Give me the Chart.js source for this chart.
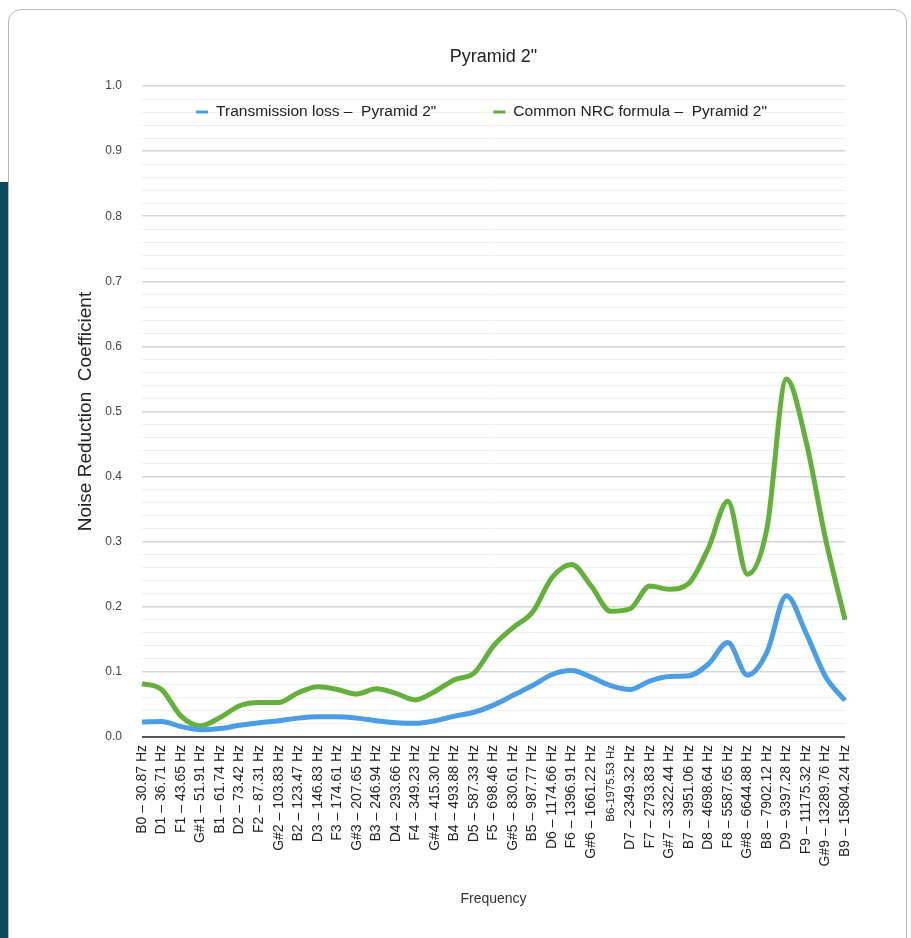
<!DOCTYPE html>
<html>
<head>
<meta charset="utf-8">
<script src="https://cdn.jsdelivr.net/npm/chart.js@4.4.1/dist/chart.umd.min.js"></script>
<style>
  html, body { margin: 0; padding: 0; background: #ffffff; width: 911px; height: 938px; overflow: hidden; }
  #bar { position: absolute; left: 0; top: 182px; width: 8px; height: 756px; background: #0c4a5e; }
  #card { position: absolute; left: 8px; top: 9px; width: 897px; height: 1000px; border: 1px solid #b9b9b9; border-radius: 13px; background: #ffffff; }
  #c { position: absolute; left: 0; top: 0; }
</style>
</head>
<body>
<div id="bar"></div>
<div id="card"></div>
<canvas id="c" width="911" height="938"></canvas>
<script>
const chartTitle = 'Pyramid 2"';
const xTitle = 'Frequency';
const yTitle = 'Noise Reduction  Coefficient';

const categories = [
  "B0 – 30.87 Hz", "D1 – 36.71 Hz", "F1 – 43.65 Hz", "G#1 – 51.91 Hz", "B1 – 61.74 Hz",
  "D2 – 73.42 Hz", "F2 – 87.31 Hz", "G#2 – 103.83 Hz", "B2 – 123.47 Hz", "D3 – 146.83 Hz",
  "F3 – 174.61 Hz", "G#3 – 207.65 Hz", "B3 – 246.94 Hz", "D4 – 293.66 Hz", "F4 – 349.23 Hz",
  "G#4 – 415.30 Hz", "B4 – 493.88 Hz", "D5 – 587.33 Hz", "F5 – 698.46 Hz", "G#5 – 830.61 Hz",
  "B5 – 987.77 Hz", "D6 – 1174.66 Hz", "F6 – 1396.91 Hz", "G#6 – 1661.22 Hz", "B6-1975.53 Hz",
  "D7 – 2349.32 Hz", "F7 – 2793.83 Hz", "G#7 – 3322.44 Hz", "B7 – 3951.06 Hz", "D8 – 4698.64 Hz",
  "F8 – 5587.65 Hz", "G#8 – 6644.88 Hz", "B8 – 7902.12 Hz", "D9 – 9397.28 Hz", "F9 – 11175.32 Hz",
  "G#9 – 13289.76 Hz", "B9 – 15804.24 Hz"
];

const transmissionLossLabel = 'Transmission loss –  Pyramid 2"';
const transmissionLoss = [
  0.023, 0.024, 0.016, 0.011, 0.013, 0.018, 0.022, 0.025, 0.029, 0.031,
  0.031, 0.029, 0.025, 0.022, 0.021, 0.025, 0.032, 0.038, 0.049, 0.064,
  0.079, 0.096, 0.102, 0.092, 0.079, 0.073, 0.086, 0.093, 0.094, 0.112,
  0.145, 0.095, 0.130, 0.217, 0.160, 0.093, 0.056
];

const nrcFormulaLabel = 'Common NRC formula –  Pyramid 2"';
const nrcFormula = [
  0.082, 0.073, 0.032, 0.017, 0.030, 0.048, 0.053, 0.053, 0.068, 0.077,
  0.073, 0.066, 0.074, 0.067, 0.057, 0.070, 0.088, 0.098, 0.140, 0.168,
  0.192, 0.245, 0.265, 0.232, 0.193, 0.197, 0.232, 0.227, 0.236, 0.290,
  0.362, 0.250, 0.320, 0.550, 0.455, 0.305, 0.180
];

const FONT = '"Liberation Sans", Arial, Helvetica, sans-serif';
const BLUE = '#4b9ee6';
const GREEN = '#63b13a';

const insideLegend = {
  id: 'insideLegend',
  afterDatasetsDraw(chart) {
    const ctx = chart.ctx;
    const area = chart.chartArea;
    const fs = 15.5;
    ctx.save();
    ctx.font = fs + 'px ' + FONT;
    ctx.textBaseline = 'middle';
    ctx.textAlign = 'left';
    const markW = 12, markGap = 8, itemGap = 57;
    const items = chart.data.datasets.map(ds => ({
      text: ds.label, color: ds.borderColor,
      w: markW + markGap + ctx.measureText(ds.label).width
    }));
    const total = items.reduce((s, it) => s + it.w, 0) + itemGap * (items.length - 1);
    let x = (area.left + area.right) / 2 - 12 - total / 2;
    const y = area.top + 26;
    items.forEach(it => {
      ctx.fillStyle = it.color;
      ctx.fillRect(x, y - 1.5, markW, 3);
      ctx.fillStyle = '#222222';
      ctx.fillText(it.text, x + markW + markGap, y);
      x += it.w + itemGap;
    });
    ctx.restore();
  }
};

new Chart(document.getElementById('c'), {
  type: 'line',
  data: {
    labels: categories,
    datasets: [
      {
        label: transmissionLossLabel,
        data: transmissionLoss,
        borderColor: BLUE,
        backgroundColor: BLUE,
        borderWidth: 5,
        pointRadius: 0,
        cubicInterpolationMode: 'monotone',
        fill: false
      },
      {
        label: nrcFormulaLabel,
        data: nrcFormula,
        borderColor: GREEN,
        backgroundColor: GREEN,
        borderWidth: 5,
        pointRadius: 0,
        cubicInterpolationMode: 'monotone',
        fill: false
      }
    ]
  },
  options: {
    responsive: false,
    animation: false,
    layout: { padding: { left: 74, right: 66, top: 46, bottom: 30 } },
    plugins: {
      legend: { display: false },
      tooltip: { enabled: false },
      title: {
        display: true,
        fullSize: false,
        text: chartTitle,
        color: '#222222',
        font: { family: FONT, size: 18, weight: 'normal' },
        padding: { top: 0, bottom: 18.4 }
      }
    },
    scales: {
      x: {
        offset: false,
        grid: { display: false, drawTicks: false },
        border: { display: false },
        ticks: {
          autoSkip: false,
          maxRotation: 90,
          minRotation: 90,
          padding: 8,
          color: '#222222',
          font: (ctx) => ({ family: FONT, size: (categories[ctx.index] || '').indexOf('–') < 0 ? 11.5 : 14 })
        },
        title: {
          display: true,
          text: xTitle,
          color: '#333333',
          font: { family: FONT, size: 14 },
          padding: { top: 0, bottom: 0 }
        },
        afterFit: (scale) => { scale.height = 171; }
      },
      y: {
        min: 0,
        max: 1,
        grid: {
          drawTicks: false,
          color: (ctx) => {
            const v = Math.round(ctx.tick.value * 100);
            if (v === 0) return '#555555';
            return v % 10 === 0 ? '#d6d6d6' : '#f0f0f0';
          },
          lineWidth: (ctx) => {
            const v = Math.round(ctx.tick.value * 100);
            if (v === 0) return 2;
            return v % 10 === 0 ? 1.6 : 1;
          }
        },
        border: { display: false },
        ticks: {
          autoSkip: false,
          stepSize: 0.02,
          padding: 20,
          color: '#444444',
          font: { family: FONT, size: 12 },
          callback: (value) => (Math.round(value * 100) % 10 === 0 ? value.toFixed(1) : '')
        },
        title: {
          display: true,
          text: yTitle,
          color: '#222222',
          font: { family: FONT, size: 19 },
          padding: { top: 0, bottom: 0 }
        },
        afterFit: (scale) => { scale.width = 68; }
      }
    }
  },
  plugins: [insideLegend]
});
</script>
</body>
</html>
